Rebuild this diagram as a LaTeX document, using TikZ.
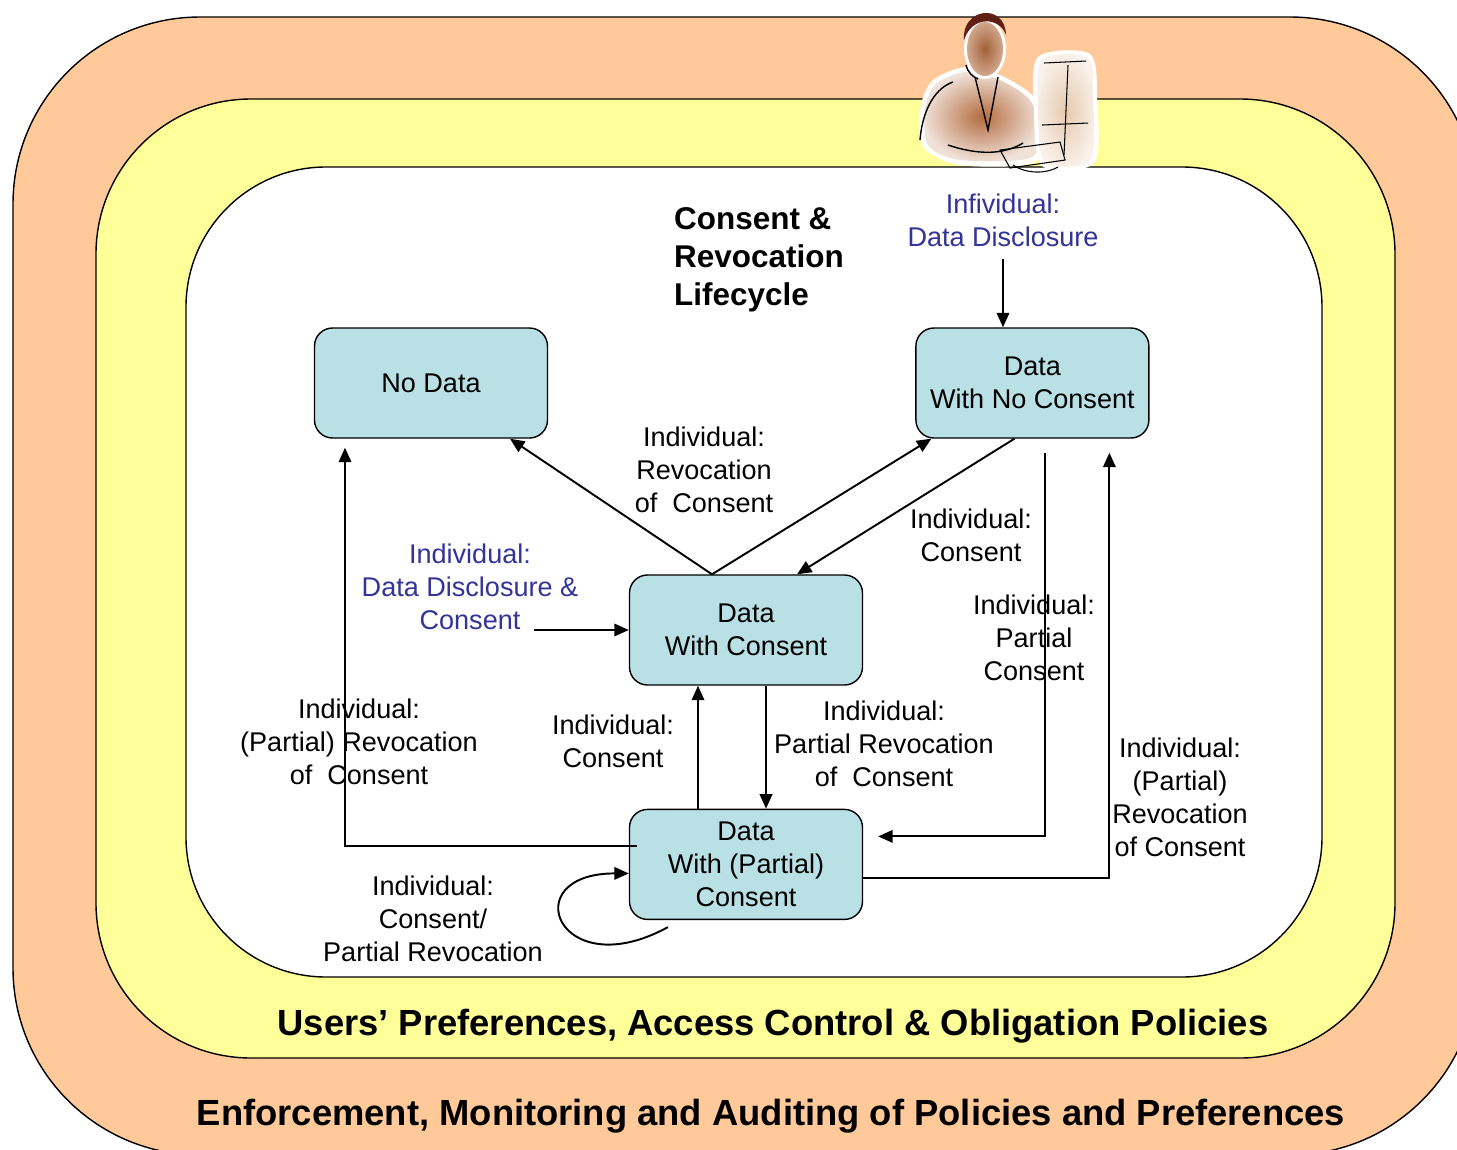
\documentclass[tikz,border=0pt]{standalone}
\usepackage{fontspec}
\setmainfont{Liberation Sans}
\usetikzlibrary{positioning,arrows.meta}

\definecolor{ringorange}{RGB}{255,201,153}
\definecolor{ringyellow}{RGB}{255,255,153}
\definecolor{phasefill}{RGB}{185,224,228}
\definecolor{actblue}{RGB}{51,51,153}
\definecolor{suitbrown}{RGB}{180,108,64}
\definecolor{hairred}{RGB}{96,30,20}
\definecolor{screenbeige}{RGB}{240,220,202}

\begin{document}
\begin{tikzpicture}[
  font=\fontsize{15.4}{18.8}\selectfont,
  ring/.style={draw, line width=0.8pt},
  phase/.style={draw, fill=phasefill, rounded corners=0.36cm, minimum width=4.66cm,
    minimum height=2.2cm, align=center, inner sep=0pt, line width=0.8pt},
  act/.style={align=center, inner sep=1pt},
  actb/.style={act, text=actblue},
  arr/.style={-{Triangle[length=2.9mm,width=2.5mm]}, line width=1.1pt},
  band/.style={font=\fontsize{20.7}{24}\selectfont\bfseries}
]
  \useasboundingbox (0,0) rectangle (29.14,-23);
  \clip (0,0) rectangle (29.14,-23);

  % policy layers
  \draw[ring, fill=ringorange, rounded corners=3.74cm] (0.26,-0.34) rectangle (29.54,-23.1);
  \draw[ring, fill=ringyellow, rounded corners=3.1cm] (1.92,-1.98) rectangle (27.9,-21.16);
  \draw[ring, fill=white, rounded corners=2.8cm] (3.72,-3.34) rectangle (26.44,-19.54);

  % person at the computer
  \begin{scope}[xshift=18.36cm, yshift=-0.1cm, x=0.02cm, y=-0.02cm]
    \fill[white] plot[smooth cycle] coordinates
      {(2,105) (14,76) (47,62) (82,70) (116,92) (126,125) (115,158) (42,160) (5,142)};
    \shade[inner color=suitbrown, outer color=suitbrown!20!white] plot[smooth cycle] coordinates
      {(7,105) (17,80) (47,67) (82,75) (112,95) (122,125) (112,153) (42,155) (10,140)};
    \fill[white] plot[smooth cycle] coordinates
      {(120,52) (172,49) (179,95) (176,158) (124,161) (116,105)};
    \shade[inner color=screenbeige!80!brown, outer color=screenbeige!40!white] plot[smooth cycle] coordinates
      {(124,55) (170,53) (175,95) (172,155) (127,157) (120,105)};
    \fill[white] (67,44) ellipse (21 and 30);
    \shade[inner color=suitbrown!90!black, outer color=suitbrown!60!white] (67,44) ellipse (18 and 27);
    \fill[hairred] (46,35) .. controls (43,3) and (87,-3) .. (88,30)
      .. controls (82,12) and (54,10) .. cycle;
    \draw[thick] (2,135) .. controls (5,100) and (20,82) .. (35,77);
    \draw[thick] (57,72) -- (70,125) -- (80,72);
    \draw[thick] (30,140) .. controls (60,150) and (85,150) .. (105,138);
    \draw[thick] (48,60) .. controls (50,68) and (55,72) .. (60,74);
    \draw[semithick] (126,58) -- (168,56);
    \draw[semithick] (150,60) -- (146,150);
    \draw[semithick] (124,120) -- (170,118);
    \draw[semithick] (82,145) -- (142,137) -- (147,155) -- (92,163) -- cycle;
    \draw[semithick] (95,160) .. controls (110,170) and (130,168) .. (140,162);
  \end{scope}

  \node[font=\fontsize{17.9}{21.6}\selectfont\bfseries, align=left, anchor=west] (title)
    at (13.36,-5.2) {Consent \&\\Revocation\\Lifecycle};

  % states
  \node[phase] (nodata) at (8.62,-7.66) {No Data};
  \node[phase, right=7.34cm of nodata] (nocons) {Data\\With No Consent};
  \node[phase] (withcons) at (14.92,-12.6) {Data\\With Consent};
  \node[phase, below=2.46cm of withcons] (partial) {Data\\With (Partial)\\Consent};

  % events
  \node[actb] (disc) at (20.06,-4.4) {Infividual:\\Data Disclosure};
  \node[act] (revoc) at (14.08,-9.4) {Individual:\\Revocation\\of~ Consent};
  \node[act] (cons1) at (19.42,-10.7) {Individual:\\Consent};
  \node[act] (pcons) at (20.68,-12.76) {Individual:\\Partial\\Consent};
  \node[actb] (dcons) at (9.4,-11.74) {Individual:\\Data Disclosure \&\\Consent};
  \node[act] (prevoc) at (7.18,-14.84) {Individual:\\(Partial) Revocation\\of~ Consent};
  \node[act] (cons2) at (12.26,-14.82) {Individual:\\Consent};
  \node[act] (partrev) at (17.68,-14.88) {Individual:\\Partial Revocation\\of~ Consent};
  \node[act] (prevoc2) at (23.6,-15.94) {Individual:\\(Partial)\\Revocation\\of Consent};
  \node[act] (loop) at (8.66,-18.38) {Individual:\\Consent/\\Partial Revocation};

  % transitions
  \draw[arr] ([xshift=-0.68cm]withcons.north) -- ([xshift=1.58cm]nodata.south);
  \draw[arr] ([xshift=-0.68cm]withcons.north) -- ([xshift=-2.02cm]nocons.south);
  \draw[arr] ([xshift=-0.36cm]nocons.south) -- ([xshift=1.02cm]withcons.north);
  \draw[arr] ([yshift=-0.2cm]disc.south) -- (disc.south |- nocons.north);
  \draw[arr] ([xshift=-1.9cm]withcons.west) -- (withcons.west);
  \draw[arr] ([xshift=-0.96cm]partial.north) -- ([xshift=-0.96cm]withcons.south);
  \draw[arr] ([xshift=0.4cm]withcons.south) -- ([xshift=0.4cm]partial.north);
  \draw[arr] ([xshift=0.16cm,yshift=0.36cm]partial.west) -| ([xshift=-1.72cm,yshift=-0.18cm]nodata.south);
  \draw[arr] ([xshift=0.26cm,yshift=-0.28cm]nocons.south) |- ([xshift=0.3cm,yshift=0.56cm]partial.east);
  \draw[arr] ([yshift=-0.28cm]partial.east) -| ([xshift=1.54cm,yshift=-0.28cm]nocons.south);
  \draw[arr] ([xshift=-1.56cm,yshift=-0.14cm]partial.south)
    .. controls +(-2.2,-1.2) and +(-2.3,0) .. ([yshift=-0.18cm]partial.west);

  \node[band] (users) at (15.46,-20.52) {Users’ Preferences, Access Control \& Obligation Policies};
  \node[band] (enforce) at (15.42,-22.33) {Enforcement, Monitoring and Auditing of Policies and Preferences};
\end{tikzpicture}
\end{document}
